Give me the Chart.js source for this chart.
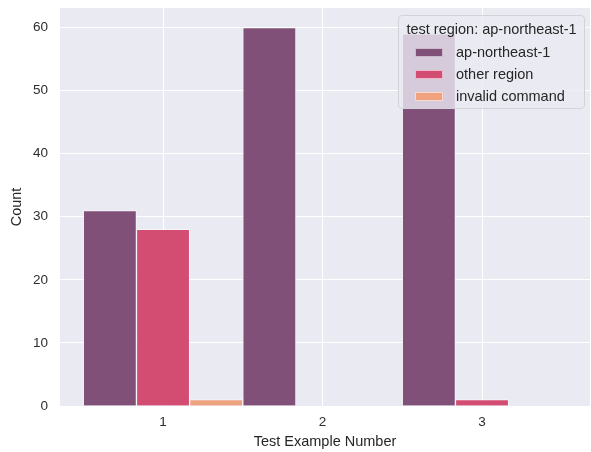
<!DOCTYPE html>
<html>
<head>
<meta charset="utf-8">
<script src="https://cdn.jsdelivr.net/npm/chart.js@4/dist/chart.umd.min.js"></script>
<style>
html,body{margin:0;padding:0;background:#ffffff;}
#wrap{position:relative;width:591px;height:452px;font-family:"Liberation Sans",Arial,sans-serif;}
#legend{position:absolute;left:398px;top:15px;width:187px;height:94px;box-sizing:border-box;background:rgba(234,234,242,0.8);border:1px solid #d2d2d8;border-radius:4px;color:#262626;font-size:14.5px;}
#legend .title{position:absolute;left:0;right:0;top:4px;text-align:center;white-space:nowrap;line-height:18px;}
#legend .item{position:absolute;left:16px;height:18px;line-height:18px;white-space:nowrap;}
#legend .sw{display:inline-block;width:28px;height:9px;box-sizing:border-box;border:1px solid rgba(255,255,255,0.6);vertical-align:middle;margin-right:13px;position:relative;top:-1px;}
</style>
</head>
<body>
<div id="wrap">
  <canvas id="c" width="591" height="452"></canvas>
  <div id="legend"></div>
</div>
<script>
// ---- data ----
const categories = [1, 2, 3];
const seriesNames = ['ap-northeast-1', 'other region', 'invalid command'];
const apNortheast1 = [31, 60, 59];
const otherRegion = [28, 0, 1];
const invalidCommand = [1, 0, 0];
const yTickStep = 10;
const legendTitle = 'test region: ap-northeast-1';
const xTitle = 'Test Example Number';
const yTitle = 'Count';

// ---- styles ----
const seriesColors = ['#805079', '#d34d73', '#efa27f'];

const seriesValues = [apNortheast1, otherRegion, invalidCommand];

const bgPlugin = {
  id: 'plotBg',
  beforeDraw(chart) {
    const {ctx, chartArea: a} = chart;
    ctx.save();
    ctx.fillStyle = '#eaeaf2';
    ctx.fillRect(a.left, a.top, a.right - a.left, a.bottom - a.top);
    ctx.restore();
  }
};

const datasets = seriesNames.map((name, k) => ({
  label: name,
  data: categories.map((c, i) => ({x: c, y: seriesValues[k][i]})),
  backgroundColor: seriesColors[k],
  borderColor: 'rgba(255,255,255,0.55)',
  borderWidth: 1,
  barPercentage: 1,
  categoryPercentage: 1
}));

const tickFont = {family: '"Liberation Sans", Arial, sans-serif', size: 13.5};
const titleFont = {family: '"Liberation Sans", Arial, sans-serif', size: 14.5};

new Chart(document.getElementById('c'), {
  type: 'bar',
  data: {datasets},
  plugins: [bgPlugin],
  options: {
    responsive: false,
    animation: false,
    layout: {padding: {top: 8, right: 1, left: 0, bottom: 0}},
    plugins: {legend: {display: false}, tooltip: {enabled: false}},
    scales: {
      x: {
        type: 'linear',
        offset: false,
        min: 0.354,
        max: 3.677,
        afterFit: s => { s.height = 46; s.paddingLeft = 0; s.paddingRight = 0; },
        ticks: {stepSize: 1, includeBounds: false, font: tickFont, color: '#2e2e2e', padding: 8},
        grid: {color: '#ffffff', lineWidth: 1, drawTicks: false, offset: false},
        border: {display: false},
        title: {display: true, text: xTitle, font: titleFont, color: '#262626', padding: {top: 0, bottom: 1}}
      },
      y: {
        min: 0,
        max: 63.1,
        afterFit: s => { s.width = 60; s.paddingTop = 0; s.paddingBottom = 0; },
        ticks: {stepSize: yTickStep, includeBounds: false, font: tickFont, color: '#2e2e2e', padding: 12},
        grid: {color: '#ffffff', lineWidth: 1, drawTicks: false},
        border: {display: false},
        title: {display: true, text: yTitle, font: titleFont, color: '#262626', padding: {top: 8, bottom: 0}}
      }
    }
  }
});

// ---- legend (HTML) ----
const leg = document.getElementById('legend');
const t = document.createElement('div');
t.className = 'title';
t.textContent = legendTitle;
leg.appendChild(t);
seriesNames.forEach((name, k) => {
  const it = document.createElement('div');
  it.className = 'item';
  it.style.top = (27 + k * 22) + 'px';
  const sw = document.createElement('span');
  sw.className = 'sw';
  sw.style.background = seriesColors[k];
  it.appendChild(sw);
  it.appendChild(document.createTextNode(name));
  leg.appendChild(it);
});
</script>
</body>
</html>
